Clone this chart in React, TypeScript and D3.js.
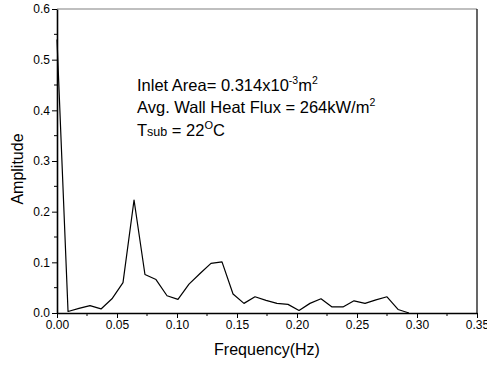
import React, { useEffect, useRef } from 'react';
import * as d3 from 'd3';

// spectrum
const frequency = [
  0, 0.0092, 0.0183, 0.0275, 0.0367, 0.0458, 0.055, 0.0642, 0.0733, 0.0825, 0.0917,
  0.1008, 0.11, 0.1192, 0.1283, 0.1375, 0.1467, 0.1558, 0.165, 0.1742, 0.1833,
  0.1925, 0.2017, 0.2108, 0.22, 0.2292, 0.2383, 0.2475, 0.2567, 0.2658, 0.275,
  0.2842, 0.2933,
];
const amplitude = [
  0.54, 0.003, 0.009, 0.0145, 0.008, 0.028, 0.06, 0.223, 0.076, 0.066, 0.034,
  0.027, 0.057, 0.078, 0.098, 0.101, 0.0375, 0.019, 0.032, 0.025, 0.019,
  0.017, 0.005, 0.019, 0.028, 0.012, 0.012, 0.024, 0.019, 0.026, 0.032,
  0.007, 0.0,
];
const xTicks = [0, 0.05, 0.1, 0.15, 0.2, 0.25, 0.3, 0.35];
const xMinorTicks = [0.025, 0.075, 0.125, 0.175, 0.225, 0.275, 0.325];
const yTicks = [0, 0.1, 0.2, 0.3, 0.4, 0.5, 0.6];
const yMinorTicks = [0.05, 0.15, 0.25, 0.35, 0.45, 0.55];

const W = 487;
const H = 365;
const FONT = 'Arial, "Liberation Sans", Helvetica, sans-serif';

const App: React.FC = () => {
  const svgRef = useRef<SVGSVGElement | null>(null);

  useEffect(() => {
    if (!svgRef.current) return;
    const svg = d3.select(svgRef.current);
    svg.selectAll('*').remove();

    const left = 57, right = 477, top = 9, bottom = 313;
    const x = d3.scaleLinear().domain([0, 0.35]).range([left, right]);
    const y = d3.scaleLinear().domain([0, 0.6]).range([bottom, top]);

    // frame: top is grey, right is black
    svg.append('line')
      .attr('x1', left).attr('x2', right).attr('y1', top).attr('y2', top)
      .attr('stroke', '#808080').attr('stroke-width', 1.2);
    svg.append('line')
      .attr('x1', right).attr('x2', right).attr('y1', top).attr('y2', bottom)
      .attr('stroke', '#000').attr('stroke-width', 1.2);

    // curve
    const pts: [number, number][] = frequency.map((f, i) => [f, amplitude[i]]);
    const line = d3.line<[number, number]>().x(d => x(d[0])).y(d => y(d[1]));
    svg.append('path')
      .datum(pts)
      .attr('d', line)
      .attr('fill', 'none')
      .attr('stroke', '#000')
      .attr('stroke-width', 1.2)
      .attr('stroke-linejoin', 'round');

    // bottom axis
    const xAxis = svg.append('g')
      .attr('transform', `translate(0,${bottom})`)
      .call(d3.axisBottom(x).tickValues(xTicks).tickSize(5).tickSizeOuter(0).tickFormat(d3.format('.2f')));
    xAxis.append('g')
      .selectAll('line')
      .data(xMinorTicks)
      .join('line')
      .attr('x1', d => x(d)).attr('x2', d => x(d))
      .attr('y1', 0).attr('y2', 3)
      .attr('stroke', '#000');

    // left axis
    const yAxis = svg.append('g')
      .attr('transform', `translate(${left},0)`)
      .call(d3.axisLeft(y).tickValues(yTicks).tickSize(5).tickSizeOuter(0).tickFormat(d3.format('.1f')));
    yAxis.append('g')
      .selectAll('line')
      .data(yMinorTicks)
      .join('line')
      .attr('y1', d => y(d)).attr('y2', d => y(d))
      .attr('x1', 0).attr('x2', -3)
      .attr('stroke', '#000');

    [xAxis, yAxis].forEach(a => {
      a.select('.domain').attr('stroke', '#000').attr('stroke-width', 1.6);
      a.selectAll('.tick line').attr('stroke', '#000');
      a.selectAll('text')
        .attr('font-family', FONT)
        .attr('font-size', 12)
        .attr('fill', '#000');
    });
    xAxis.selectAll('.tick text').attr('dy', '0.95em').attr('y', 5);
    yAxis.selectAll('.tick text').attr('x', -7);

    // axis titles
    svg.append('text')
      .attr('x', (left + right) / 2)
      .attr('y', 355)
      .attr('text-anchor', 'middle')
      .attr('font-family', FONT)
      .attr('font-size', 16)
      .text('Frequency(Hz)');

    svg.append('text')
      .attr('transform', `translate(23,${(top + bottom) / 2 + 8}) rotate(-90)`)
      .attr('text-anchor', 'middle')
      .attr('font-family', FONT)
      .attr('font-size', 16)
      .text('Amplitude');

    // annotation
    const note = svg.append('g')
      .attr('font-family', FONT)
      .attr('font-size', 16.5)
      .attr('fill', '#000');

    const l1 = note.append('text').attr('x', 137).attr('y', 91);
    l1.append('tspan').text('Inlet Area= 0.314x10');
    l1.append('tspan').attr('font-size', 10.5).attr('dy', -7).text('-3');
    l1.append('tspan').attr('dy', 7).text('m');
    l1.append('tspan').attr('font-size', 10.5).attr('dy', -7).text('2');

    const l2 = note.append('text').attr('x', 137).attr('y', 113);
    l2.append('tspan').text('Avg. Wall Heat Flux = 264kW/m');
    l2.append('tspan').attr('font-size', 10.5).attr('dy', -7).text('2');

    const l3 = note.append('text').attr('x', 137).attr('y', 136);
    l3.append('tspan').text('T');
    l3.append('tspan').attr('font-size', 12.5).text('sub');
    l3.append('tspan').text(' = 22');
    l3.append('tspan').attr('font-size', 11).attr('dy', -7).text('O');
    l3.append('tspan').attr('dy', 7).text('C');

    return () => { svg.selectAll('*').remove(); };
  }, []);

  return (
    <svg
      ref={svgRef}
      width={W}
      height={H}
      style={{ position: 'absolute', left: 0, top: 0, background: '#fff' }}
    />
  );
};

export default App;
